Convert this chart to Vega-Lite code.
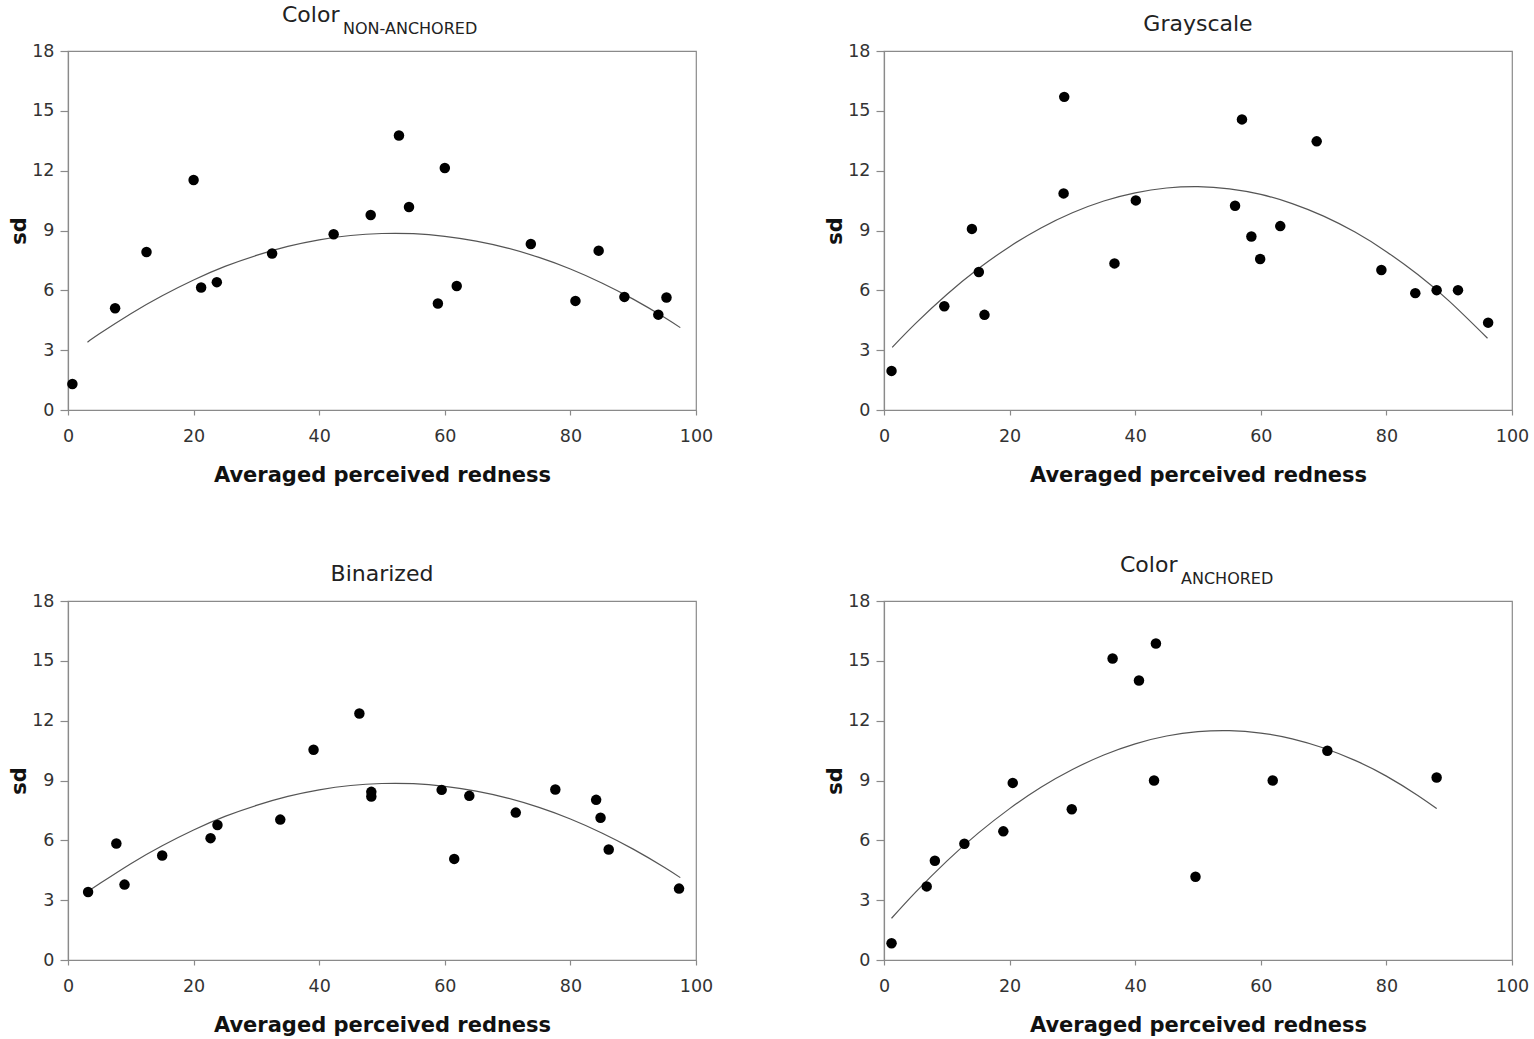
{
  "$schema": "https://vega.github.io/schema/vega-lite/v6.json",
  "background": "white",
  "padding": {"left": 8, "top": 3, "right": 0, "bottom": 0},
  "bounds": "flush",
  "columns": 2,
  "spacing": {"row": 191, "column": 188},
  "datasets": {
    "observed": [
      {"panel": "non-anchored", "redness": 0.7, "sd": 1.3},
      {"panel": "non-anchored", "redness": 7.5, "sd": 5.1},
      {"panel": "non-anchored", "redness": 12.5, "sd": 7.92},
      {"panel": "non-anchored", "redness": 20.0, "sd": 11.53},
      {"panel": "non-anchored", "redness": 21.2, "sd": 6.14},
      {"panel": "non-anchored", "redness": 23.7, "sd": 6.41},
      {"panel": "non-anchored", "redness": 32.5, "sd": 7.85},
      {"panel": "non-anchored", "redness": 42.3, "sd": 8.81},
      {"panel": "non-anchored", "redness": 48.2, "sd": 9.78},
      {"panel": "non-anchored", "redness": 52.7, "sd": 13.76},
      {"panel": "non-anchored", "redness": 54.3, "sd": 10.18},
      {"panel": "non-anchored", "redness": 58.9, "sd": 5.34},
      {"panel": "non-anchored", "redness": 60.0, "sd": 12.13},
      {"panel": "non-anchored", "redness": 61.9, "sd": 6.22},
      {"panel": "non-anchored", "redness": 73.7, "sd": 8.32},
      {"panel": "non-anchored", "redness": 80.8, "sd": 5.47},
      {"panel": "non-anchored", "redness": 84.5, "sd": 7.99},
      {"panel": "non-anchored", "redness": 88.6, "sd": 5.67},
      {"panel": "non-anchored", "redness": 94.0, "sd": 4.78},
      {"panel": "non-anchored", "redness": 95.3, "sd": 5.64},

      {"panel": "grayscale", "redness": 1.2, "sd": 1.96},
      {"panel": "grayscale", "redness": 9.6, "sd": 5.2},
      {"panel": "grayscale", "redness": 14.0, "sd": 9.08},
      {"panel": "grayscale", "redness": 15.1, "sd": 6.92},
      {"panel": "grayscale", "redness": 16.0, "sd": 4.77},
      {"panel": "grayscale", "redness": 28.7, "sd": 15.7},
      {"panel": "grayscale", "redness": 28.6, "sd": 10.86},
      {"panel": "grayscale", "redness": 36.7, "sd": 7.35},
      {"panel": "grayscale", "redness": 40.1, "sd": 10.51},
      {"panel": "grayscale", "redness": 55.9, "sd": 10.24},
      {"panel": "grayscale", "redness": 57.0, "sd": 14.57},
      {"panel": "grayscale", "redness": 58.5, "sd": 8.7},
      {"panel": "grayscale", "redness": 59.9, "sd": 7.57},
      {"panel": "grayscale", "redness": 63.1, "sd": 9.22},
      {"panel": "grayscale", "redness": 68.9, "sd": 13.47},
      {"panel": "grayscale", "redness": 79.2, "sd": 7.02},
      {"panel": "grayscale", "redness": 84.6, "sd": 5.86},
      {"panel": "grayscale", "redness": 88.0, "sd": 6.01},
      {"panel": "grayscale", "redness": 91.4, "sd": 6.01},
      {"panel": "grayscale", "redness": 96.2, "sd": 4.38},

      {"panel": "binarized", "redness": 3.2, "sd": 3.41},
      {"panel": "binarized", "redness": 7.7, "sd": 5.84},
      {"panel": "binarized", "redness": 9.0, "sd": 3.78},
      {"panel": "binarized", "redness": 15.0, "sd": 5.24},
      {"panel": "binarized", "redness": 22.7, "sd": 6.11},
      {"panel": "binarized", "redness": 23.8, "sd": 6.77},
      {"panel": "binarized", "redness": 33.8, "sd": 7.04},
      {"panel": "binarized", "redness": 39.1, "sd": 10.54},
      {"panel": "binarized", "redness": 46.4, "sd": 12.36},
      {"panel": "binarized", "redness": 48.3, "sd": 8.43},
      {"panel": "binarized", "redness": 48.3, "sd": 8.2},
      {"panel": "binarized", "redness": 59.5, "sd": 8.53},
      {"panel": "binarized", "redness": 61.5, "sd": 5.07},
      {"panel": "binarized", "redness": 63.9, "sd": 8.23},
      {"panel": "binarized", "redness": 71.3, "sd": 7.39},
      {"panel": "binarized", "redness": 77.6, "sd": 8.55},
      {"panel": "binarized", "redness": 84.1, "sd": 8.03},
      {"panel": "binarized", "redness": 84.8, "sd": 7.13},
      {"panel": "binarized", "redness": 86.1, "sd": 5.54},
      {"panel": "binarized", "redness": 97.3, "sd": 3.58},

      {"panel": "anchored", "redness": 1.2, "sd": 0.84},
      {"panel": "anchored", "redness": 6.8, "sd": 3.69},
      {"panel": "anchored", "redness": 8.1, "sd": 4.98},
      {"panel": "anchored", "redness": 12.8, "sd": 5.83},
      {"panel": "anchored", "redness": 19.0, "sd": 6.45},
      {"panel": "anchored", "redness": 20.5, "sd": 8.88},
      {"panel": "anchored", "redness": 29.9, "sd": 7.56},
      {"panel": "anchored", "redness": 36.4, "sd": 15.12},
      {"panel": "anchored", "redness": 40.6, "sd": 14.01},
      {"panel": "anchored", "redness": 43.3, "sd": 15.87},
      {"panel": "anchored", "redness": 43.0, "sd": 9.0},
      {"panel": "anchored", "redness": 49.6, "sd": 4.17},
      {"panel": "anchored", "redness": 61.9, "sd": 9.0},
      {"panel": "anchored", "redness": 70.6, "sd": 10.49},
      {"panel": "anchored", "redness": 88.0, "sd": 9.15}
    ],
    "fitted": [
      {"panel": "non-anchored", "redness": 3.1, "sd": 3.4},
      {"panel": "non-anchored", "redness": 5, "sd": 3.82},
      {"panel": "non-anchored", "redness": 10, "sd": 4.83},
      {"panel": "non-anchored", "redness": 15, "sd": 5.73},
      {"panel": "non-anchored", "redness": 20, "sd": 6.52},
      {"panel": "non-anchored", "redness": 25, "sd": 7.2},
      {"panel": "non-anchored", "redness": 30, "sd": 7.75},
      {"panel": "non-anchored", "redness": 35, "sd": 8.2},
      {"panel": "non-anchored", "redness": 40, "sd": 8.53},
      {"panel": "non-anchored", "redness": 45, "sd": 8.75},
      {"panel": "non-anchored", "redness": 50, "sd": 8.85},
      {"panel": "non-anchored", "redness": 55, "sd": 8.84},
      {"panel": "non-anchored", "redness": 60, "sd": 8.71},
      {"panel": "non-anchored", "redness": 65, "sd": 8.47},
      {"panel": "non-anchored", "redness": 70, "sd": 8.12},
      {"panel": "non-anchored", "redness": 75, "sd": 7.65},
      {"panel": "non-anchored", "redness": 80, "sd": 7.07},
      {"panel": "non-anchored", "redness": 85, "sd": 6.37},
      {"panel": "non-anchored", "redness": 90, "sd": 5.56},
      {"panel": "non-anchored", "redness": 95, "sd": 4.64},
      {"panel": "non-anchored", "redness": 97.5, "sd": 4.13},

      {"panel": "grayscale", "redness": 1.3, "sd": 3.14},
      {"panel": "grayscale", "redness": 5, "sd": 4.33},
      {"panel": "grayscale", "redness": 10, "sd": 5.79},
      {"panel": "grayscale", "redness": 15, "sd": 7.08},
      {"panel": "grayscale", "redness": 20, "sd": 8.19},
      {"panel": "grayscale", "redness": 25, "sd": 9.13},
      {"panel": "grayscale", "redness": 30, "sd": 9.89},
      {"panel": "grayscale", "redness": 35, "sd": 10.48},
      {"panel": "grayscale", "redness": 40, "sd": 10.89},
      {"panel": "grayscale", "redness": 45, "sd": 11.13},
      {"panel": "grayscale", "redness": 50, "sd": 11.2},
      {"panel": "grayscale", "redness": 55, "sd": 11.09},
      {"panel": "grayscale", "redness": 60, "sd": 10.81},
      {"panel": "grayscale", "redness": 65, "sd": 10.35},
      {"panel": "grayscale", "redness": 70, "sd": 9.72},
      {"panel": "grayscale", "redness": 75, "sd": 8.92},
      {"panel": "grayscale", "redness": 80, "sd": 7.94},
      {"panel": "grayscale", "redness": 85, "sd": 6.79},
      {"panel": "grayscale", "redness": 90, "sd": 5.46},
      {"panel": "grayscale", "redness": 96.1, "sd": 3.6},

      {"panel": "binarized", "redness": 3.2, "sd": 3.45},
      {"panel": "binarized", "redness": 5, "sd": 3.82},
      {"panel": "binarized", "redness": 10, "sd": 4.83},
      {"panel": "binarized", "redness": 15, "sd": 5.73},
      {"panel": "binarized", "redness": 20, "sd": 6.52},
      {"panel": "binarized", "redness": 25, "sd": 7.2},
      {"panel": "binarized", "redness": 30, "sd": 7.75},
      {"panel": "binarized", "redness": 35, "sd": 8.2},
      {"panel": "binarized", "redness": 40, "sd": 8.53},
      {"panel": "binarized", "redness": 45, "sd": 8.75},
      {"panel": "binarized", "redness": 50, "sd": 8.85},
      {"panel": "binarized", "redness": 55, "sd": 8.84},
      {"panel": "binarized", "redness": 60, "sd": 8.71},
      {"panel": "binarized", "redness": 65, "sd": 8.47},
      {"panel": "binarized", "redness": 70, "sd": 8.12},
      {"panel": "binarized", "redness": 75, "sd": 7.65},
      {"panel": "binarized", "redness": 80, "sd": 7.07},
      {"panel": "binarized", "redness": 85, "sd": 6.37},
      {"panel": "binarized", "redness": 90, "sd": 5.56},
      {"panel": "binarized", "redness": 95, "sd": 4.64},
      {"panel": "binarized", "redness": 97.5, "sd": 4.13},

      {"panel": "anchored", "redness": 1.2, "sd": 2.09},
      {"panel": "anchored", "redness": 5, "sd": 3.39},
      {"panel": "anchored", "redness": 10, "sd": 4.96},
      {"panel": "anchored", "redness": 15, "sd": 6.36},
      {"panel": "anchored", "redness": 20, "sd": 7.59},
      {"panel": "anchored", "redness": 25, "sd": 8.66},
      {"panel": "anchored", "redness": 30, "sd": 9.55},
      {"panel": "anchored", "redness": 35, "sd": 10.28},
      {"panel": "anchored", "redness": 40, "sd": 10.84},
      {"panel": "anchored", "redness": 45, "sd": 11.23},
      {"panel": "anchored", "redness": 50, "sd": 11.45},
      {"panel": "anchored", "redness": 55, "sd": 11.5},
      {"panel": "anchored", "redness": 60, "sd": 11.38},
      {"panel": "anchored", "redness": 65, "sd": 11.09},
      {"panel": "anchored", "redness": 70, "sd": 10.63},
      {"panel": "anchored", "redness": 75, "sd": 10.01},
      {"panel": "anchored", "redness": 80, "sd": 9.22},
      {"panel": "anchored", "redness": 85, "sd": 8.25},
      {"panel": "anchored", "redness": 88, "sd": 7.59}
    ]
  },
  "concat": [
    {
      "title": {"text": "Color", "subtitle": "\u200b\u00a0\u00a0\u00a0\u00a0\u00a0\u00a0\u00a0\u00a0\u00a0\u00a0\u00a0\u00a0NON-ANCHORED", "align": "left", "dx": -100, "dy": 2},
      "width": 628, "height": 359,
      "layer": [
        {"data": {"name": "fitted"}, "transform": [{"filter": "datum.panel === 'non-anchored'"}], "mark": {"type": "line", "interpolate": "natural"},
         "encoding": {"x": {"field": "redness", "type": "quantitative"}, "y": {"field": "sd", "type": "quantitative"}}},
        {"data": {"name": "observed"}, "transform": [{"filter": "datum.panel === 'non-anchored'"}], "mark": "point",
         "encoding": {"x": {"field": "redness", "type": "quantitative", "scale": {"domain": [0, 100], "nice": false}, "axis": {"values": [0, 20, 40, 60, 80, 100]}, "title": "Averaged perceived redness"},
                      "y": {"field": "sd", "type": "quantitative", "scale": {"domain": [0, 18], "nice": false}, "axis": {"values": [0, 3, 6, 9, 12, 15, 18]}, "title": "sd"}}}
      ]
    },
    {
      "title": {"text": "Grayscale"},
      "width": 628, "height": 359,
      "layer": [
        {"data": {"name": "fitted"}, "transform": [{"filter": "datum.panel === 'grayscale'"}], "mark": {"type": "line", "interpolate": "natural"},
         "encoding": {"x": {"field": "redness", "type": "quantitative"}, "y": {"field": "sd", "type": "quantitative"}}},
        {"data": {"name": "observed"}, "transform": [{"filter": "datum.panel === 'grayscale'"}], "mark": "point",
         "encoding": {"x": {"field": "redness", "type": "quantitative", "scale": {"domain": [0, 100], "nice": false}, "axis": {"values": [0, 20, 40, 60, 80, 100]}, "title": "Averaged perceived redness"},
                      "y": {"field": "sd", "type": "quantitative", "scale": {"domain": [0, 18], "nice": false}, "axis": {"values": [0, 3, 6, 9, 12, 15, 18]}, "title": "sd"}}}
      ]
    },
    {
      "title": {"text": "Binarized"},
      "width": 628, "height": 359,
      "layer": [
        {"data": {"name": "fitted"}, "transform": [{"filter": "datum.panel === 'binarized'"}], "mark": {"type": "line", "interpolate": "natural"},
         "encoding": {"x": {"field": "redness", "type": "quantitative"}, "y": {"field": "sd", "type": "quantitative"}}},
        {"data": {"name": "observed"}, "transform": [{"filter": "datum.panel === 'binarized'"}], "mark": "point",
         "encoding": {"x": {"field": "redness", "type": "quantitative", "scale": {"domain": [0, 100], "nice": false}, "axis": {"values": [0, 20, 40, 60, 80, 100]}, "title": "Averaged perceived redness"},
                      "y": {"field": "sd", "type": "quantitative", "scale": {"domain": [0, 18], "nice": false}, "axis": {"values": [0, 3, 6, 9, 12, 15, 18]}, "title": "sd"}}}
      ]
    },
    {
      "title": {"text": "Color", "subtitle": "\u200b\u00a0\u00a0\u00a0\u00a0\u00a0\u00a0\u00a0\u00a0\u00a0\u00a0\u00a0\u00a0ANCHORED", "align": "left", "dx": -78, "dy": 2},
      "width": 628, "height": 359,
      "layer": [
        {"data": {"name": "fitted"}, "transform": [{"filter": "datum.panel === 'anchored'"}], "mark": {"type": "line", "interpolate": "natural"},
         "encoding": {"x": {"field": "redness", "type": "quantitative"}, "y": {"field": "sd", "type": "quantitative"}}},
        {"data": {"name": "observed"}, "transform": [{"filter": "datum.panel === 'anchored'"}], "mark": "point",
         "encoding": {"x": {"field": "redness", "type": "quantitative", "scale": {"domain": [0, 100], "nice": false}, "axis": {"values": [0, 20, 40, 60, 80, 100]}, "title": "Averaged perceived redness"},
                      "y": {"field": "sd", "type": "quantitative", "scale": {"domain": [0, 18], "nice": false}, "axis": {"values": [0, 3, 6, 9, 12, 15, 18]}, "title": "sd"}}}
      ]
    }
  ],
  "config": {
    "font": "DejaVu Sans",
    "view": {"stroke": "#8a8a8a", "strokeWidth": 1.2},
    "title": {"anchor": "middle", "frame": "group", "fontSize": 22, "fontWeight": "normal", "color": "#222222", "subtitleFontSize": 16, "subtitleColor": "#222222", "subtitlePadding": -6, "offset": 6},
    "axis": {
      "grid": false,
      "domainColor": "#8a8a8a", "domainWidth": 1.2,
      "tickColor": "#8a8a8a", "tickWidth": 1.2,
      "labelFontSize": 17.5, "labelColor": "#333333",
      "titleFontSize": 21, "titleFontWeight": "bold", "titleColor": "#111111"
    },
    "axisX": {"tickSize": 5, "labelPadding": 12, "titlePadding": 20, "labelFlush": false},
    "axisY": {"tickSize": 8, "labelPadding": 6, "titlePadding": 2},
    "point": {"filled": true, "color": "#000000", "size": 110, "opacity": 1},
    "line": {"color": "#555555", "strokeWidth": 1.2}
  }
}
